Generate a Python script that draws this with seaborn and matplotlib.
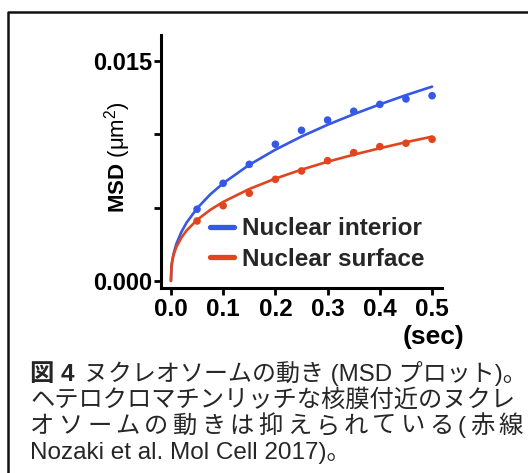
import matplotlib
matplotlib.use("Agg")
import matplotlib.pyplot as plt
import pandas as pd
import seaborn as sns
from matplotlib.lines import Line2D

# ---------------- data ----------------
series = ["Nuclear interior", "Nuclear surface"]
series_colors = ["#3558e6", "#e04520"]

point_t = [0.05, 0.10, 0.15, 0.20, 0.25, 0.30, 0.35, 0.40, 0.45, 0.50]
interior_points = [0.00489, 0.00666, 0.00795, 0.00932, 0.01027, 0.01097,
                   0.01157, 0.01204, 0.01241, 0.01263]
surface_points = [0.00409, 0.00513, 0.00598, 0.00693, 0.00750, 0.00820,
                  0.00875, 0.00916, 0.00939, 0.00966]

fit_t = [0.0, 0.001, 0.002, 0.005, 0.01, 0.02, 0.03, 0.05, 0.075, 0.10,
         0.15, 0.20, 0.25, 0.30, 0.35, 0.40, 0.45, 0.50]
interior_fit = [0.0, 0.00093, 0.00125, 0.00185, 0.00249, 0.00334, 0.00398,
                0.00495, 0.00589, 0.00666, 0.00792, 0.00895, 0.00985,
                0.01065, 0.01137, 0.01204, 0.01267, 0.01325]
surface_fit = [0.0, 0.00096, 0.00125, 0.00176, 0.00228, 0.00295, 0.00344,
               0.00416, 0.00484, 0.00539, 0.00627, 0.00698, 0.00759,
               0.00813, 0.00861, 0.00905, 0.00946, 0.00984]

x_ticks = [0.0, 0.1, 0.2, 0.3, 0.4, 0.5]
x_tick_labels = ["0.0", "0.1", "0.2", "0.3", "0.4", "0.5"]
y_ticks = [0.0, 0.005, 0.010, 0.015]
y_tick_labels = ["0.000", "", "", "0.015"]

caption_head = "図 4"
caption_line1 = "ヌクレオソームの動き (MSD プロット)。"
caption_line2 = "ヘテロクロマチンリッチな核膜付近のヌクレ"
caption_line3 = "オソームの動きは抑えられている(赤線"
caption_line4 = "Nozaki et al. Mol Cell 2017)。"

# ---------------- style ----------------
sns.set_theme(style="white")
plt.rcParams["font.family"] = ["Liberation Sans", "Noto Sans CJK JP", "DejaVu Sans"]
plt.rcParams["mathtext.fontset"] = "custom"
plt.rcParams["mathtext.rm"] = "Liberation Sans"
plt.rcParams["mathtext.bf"] = "Liberation Sans:bold"
plt.rcParams["mathtext.it"] = "Liberation Sans:italic"

W, H = 528, 473
fig = plt.figure(figsize=(W / 100, H / 100), dpi=100)
fig.patch.set_facecolor("white")

ax = fig.add_axes([161 / W, 1 - 288 / H, (442 - 161) / W, (288 - 35) / H])
ax.set_facecolor("white")

palette = dict(zip(series, series_colors))
fit_df = pd.DataFrame({
    "t": fit_t + fit_t,
    "msd": interior_fit + surface_fit,
    "series": [series[0]] * len(fit_t) + [series[1]] * len(fit_t),
})
pts_df = pd.DataFrame({
    "t": point_t + point_t,
    "msd": interior_points + surface_points,
    "series": [series[0]] * len(point_t) + [series[1]] * len(point_t),
})

sns.lineplot(data=fit_df, x="t", y="msd", hue="series", palette=palette,
             linewidth=1.9, legend=False, ax=ax, estimator=None)
sns.scatterplot(data=pts_df, x="t", y="msd", hue="series", palette=palette,
                s=30, linewidth=0, legend=False, ax=ax, zorder=3)

ax.set_xlim(-0.019, 0.519)
ax.set_ylim(-0.00048, 0.01677)
ax.set_xticks(x_ticks)
ax.set_xticklabels(x_tick_labels, fontsize=17.5, fontweight="bold")
ax.set_yticks(y_ticks)
ax.set_yticklabels(y_tick_labels, fontsize=17, fontweight="bold")
ax.set_xlabel("")
ax.set_ylabel("")
for s in ["top", "right"]:
    ax.spines[s].set_visible(False)
for s in ["left", "bottom"]:
    ax.spines[s].set_linewidth(2.2)
    ax.spines[s].set_color("black")
ax.tick_params(axis="both", direction="out", width=2, color="black",
               labelcolor="black", bottom=True, left=True)
ax.tick_params(axis="y", length=5, pad=1.5)
ax.tick_params(axis="x", length=5, pad=2)

# legend
handles = [Line2D([], [], color=c, lw=3.8) for c in series_colors]
ax.legend(handles, series, loc="center left",
          bbox_to_anchor=((210 - 161) / 281, (288 - 244) / 253),
          frameon=False, prop={"weight": "bold", "size": 17.5},
          handlelength=1.0, handletextpad=0.33, labelspacing=0.3,
          borderpad=0, borderaxespad=0)

# axis titles
fig.text(118 / W, 1 - 157 / H, r"$\mathbf{MSD}$ (μm$^{2}$)", rotation=90,
         ha="center", va="center", fontsize=16, color="black")
fig.text(433 / W, 1 - 337 / H, "(sec)", ha="center", va="center",
         fontsize=19, fontweight="bold", color="black")

# frame (left and top edges visible)
fig.add_artist(Line2D([8 / W, 8 / W, 1.0], [0.0, 1 - 12 / H, 1 - 12 / H],
                      transform=fig.transFigure, color="#111111", lw=1.8))

# caption
cap_size = 17.5
left_px, right_px = 30, 523
baselines = [381, 407, 433, 459]
fig.canvas.draw()
r = fig.canvas.get_renderer()

t_head = fig.text(left_px / W, 1 - baselines[0] / H, caption_head,
                  fontsize=cap_size, fontweight="bold", ha="left", va="baseline")
bb = t_head.get_window_extent(r)
start1 = bb.x1 + 10
t1 = fig.text(start1 / W, 1 - baselines[0] / H, caption_line1,
              fontsize=cap_size, ha="left", va="baseline")
w1 = t1.get_window_extent(r).width
avail = (right_px + 2) - start1
if w1 > avail:
    t1.set_fontsize(cap_size * avail / w1)

fig.text(left_px / W, 1 - baselines[1] / H, caption_line2,
         fontsize=cap_size, ha="left", va="baseline")

# justified third line
chars = list(caption_line3)
tmp = [fig.text(0, 0, ch, fontsize=cap_size, ha="left", va="baseline") for ch in chars]
widths = [t.get_window_extent(r).width for t in tmp]
for t in tmp:
    t.remove()
gap = (right_px - left_px - sum(widths)) / (len(chars) - 1)
x = left_px
for ch, w in zip(chars, widths):
    fig.text(x / W, 1 - baselines[2] / H, ch, fontsize=cap_size,
             ha="left", va="baseline")
    x += w + gap

fig.text(left_px / W, 1 - baselines[3] / H, caption_line4,
         fontsize=cap_size, ha="left", va="baseline")

fig.savefig("out.png", dpi=100, facecolor="white")
